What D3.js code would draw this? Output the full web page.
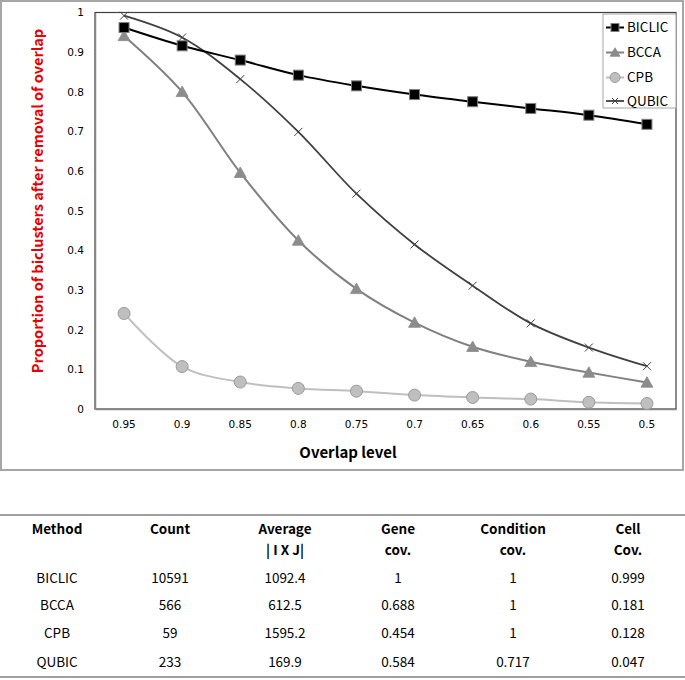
<!DOCTYPE html>
<html><head><meta charset="utf-8">
<script src="https://cdn.jsdelivr.net/npm/d3@7"></script>
<style>body{margin:0;background:#fff}svg{display:block}</style>
</head><body>
<svg id="c" width="685" height="680"></svg>
<script>
const overlapLevels = ["0.95","0.9","0.85","0.8","0.75","0.7","0.65","0.6","0.55","0.5"];
const yTicks = [0,0.1,0.2,0.3,0.4,0.5,0.6,0.7,0.8,0.9,1];
const biclic = [0.962,0.916,0.880,0.842,0.815,0.793,0.775,0.758,0.741,0.718];
const bcca   = [0.941,0.800,0.596,0.425,0.303,0.218,0.157,0.119,0.092,0.067];
const cpb    = [0.241,0.107,0.068,0.052,0.045,0.035,0.029,0.025,0.017,0.014];
const qubic  = [0.992,0.937,0.832,0.699,0.543,0.415,0.311,0.216,0.155,0.108];
const seriesNames = ["BICLIC","BCCA","CPB","QUBIC"];
const tableHeader1 = ["Method","Count","Average","Gene","Condition","Cell"];
const tableHeader2 = ["","","| I X J|","cov.","cov.","Cov."];
const tableRows = [
  ["BICLIC","10591","1092.4","1","1","0.999"],
  ["BCCA","566","612.5","0.688","1","0.181"],
  ["CPB","59","1595.2","0.454","1","0.128"],
  ["QUBIC","233","169.9","0.584","0.717","0.047"]
];

const svg = d3.select("#c");
const F = "'Noto Sans CJK KR','Noto Sans',sans-serif";
const FT = "'DejaVu Sans',Verdana,sans-serif";

// outer chart frame
svg.append("rect").attr("x",1).attr("y",1).attr("width",682).attr("height",469)
  .attr("fill","#fff").attr("stroke","#a6a6a6").attr("stroke-width",2);

const L=95,R=676,T=12.5,B=409;
const x = d3.scaleBand().domain(overlapLevels).range([L,R]).padding(0);
const y = d3.scaleLinear().domain([0,1]).range([B,T]);
const cx = d => x(d)+x.bandwidth()/2;

// plot area border
svg.append("rect").attr("x",L).attr("y",T).attr("width",R-L).attr("height",B-T)
  .attr("fill","none").attr("stroke","#404040").attr("stroke-width",1.2);

// axes
const ya = svg.append("g").attr("transform",`translate(${L},0)`)
  .call(d3.axisLeft(y).tickValues(yTicks).tickSize(0).tickPadding(11).tickFormat(d3.format("")));
ya.select(".domain").attr("stroke","#868686").attr("stroke-width",1.5);
ya.selectAll("text").attr("font-family",FT).attr("font-size","10.5px").attr("fill","#000");

const xa = svg.append("g").attr("transform",`translate(0,${B})`)
  .call(d3.axisBottom(x).tickSize(0).tickPadding(12));
xa.select(".domain").attr("stroke","#868686").attr("stroke-width",1.5);
xa.selectAll("text").attr("font-family",FT).attr("font-size","10.5px").attr("fill","#000");

// titles
svg.append("text").attr("x",348).attr("y",458).attr("text-anchor","middle")
  .attr("font-family",F).attr("font-weight","bold").attr("font-size","15px").attr("fill","#000")
  .text("Overlap level");
svg.append("text").attr("transform","translate(43,201) rotate(-90)").attr("text-anchor","middle")
  .attr("font-family",F).attr("font-weight","bold").attr("font-size","14.5px").attr("fill","#e60000")
  .text("Proportion of biclusters after removal of overlap");

const styles = [
  {name:"BICLIC",data:biclic,line:"#000",w:2,marker:"square"},
  {name:"BCCA",data:bcca,line:"#808080",w:2,marker:"triangle"},
  {name:"CPB",data:cpb,line:"#bfbfbf",w:2,marker:"circle"},
  {name:"QUBIC",data:qubic,line:"#404040",w:1.8,marker:"x"}
];
const lineGen = d3.line().x((d,i)=>cx(overlapLevels[i])).y(d=>y(d)).curve(d3.curveCatmullRom.alpha(0.5));

function drawMarker(g,type,px,py,s){
  if(type==="square"){
    g.append("rect").attr("x",px-s/2).attr("y",py-s/2).attr("width",s).attr("height",s)
      .attr("fill","#000").attr("stroke","#808080").attr("stroke-width",1);
  } else if(type==="triangle"){
    const h=s*0.95;
    g.append("path").attr("d",`M${px},${py-h/2-1}L${px+s/2+1},${py+h/2}L${px-s/2-1},${py+h/2}Z`)
      .attr("fill","#8c8c8c").attr("stroke","#8c8c8c").attr("stroke-width",0.8);
  } else if(type==="circle"){
    g.append("circle").attr("cx",px).attr("cy",py).attr("r",s/2+1)
      .attr("fill","#bfbfbf").attr("stroke","#9a9a9a").attr("stroke-width",1);
  } else {
    const a=s/2-1;
    g.append("path").attr("d",`M${px-a},${py-a}L${px+a},${py+a}M${px-a},${py+a}L${px+a},${py-a}`)
      .attr("stroke","#404040").attr("stroke-width",1).attr("fill","none");
  }
}

// draw order: CPB, BCCA, QUBIC, BICLIC (BICLIC on top)
[2,1,3,0].forEach(k=>{
  const s=styles[k];
  const g=svg.append("g");
  g.append("path").datum(s.data).attr("d",lineGen).attr("fill","none")
    .attr("stroke",s.line).attr("stroke-width",s.w);
  s.data.forEach((v,i)=>drawMarker(g,s.marker,cx(overlapLevels[i]),y(v),10));
});

// legend
svg.append("rect").attr("x",603).attr("y",14).attr("width",73).attr("height",94)
  .attr("fill","#fff").attr("stroke","#a6a6a6").attr("stroke-width",1);
const ly=[27.5,52.5,77.5,101];
styles.forEach((s,i)=>{
  const g=svg.append("g");
  g.append("line").attr("x1",606).attr("x2",624).attr("y1",ly[i]).attr("y2",ly[i])
    .attr("stroke",s.line).attr("stroke-width",s.w);
  drawMarker(g,s.marker,615,ly[i],8);
  g.append("text").attr("x",627).attr("y",ly[i]).attr("dy","0.36em")
    .attr("font-family",F).attr("font-size","13.5px").attr("fill","#000").text(s.name);
});

// table
const colX=[57,170,285,398,513,628];
svg.append("line").attr("x1",0).attr("x2",685).attr("y1",515).attr("y2",515).attr("stroke","#a0a0a0").attr("stroke-width",2);
svg.append("line").attr("x1",0).attr("x2",685).attr("y1",677).attr("y2",677).attr("stroke","#a0a0a0").attr("stroke-width",2);
tableHeader1.forEach((t,i)=>svg.append("text").attr("x",colX[i]).attr("y",529).attr("dy","0.36em")
  .attr("text-anchor","middle").attr("font-family",F).attr("font-weight","bold").attr("font-size","13.5px").text(t));
tableHeader2.forEach((t,i)=>svg.append("text").attr("x",colX[i]).attr("y",550).attr("dy","0.36em")
  .attr("text-anchor","middle").attr("font-family",F).attr("font-weight","bold").attr("font-size","13.5px").text(t));
const rowY=[578,605,633,662];
tableRows.forEach((r,j)=>r.forEach((t,i)=>svg.append("text").attr("x",colX[i]).attr("y",rowY[j]).attr("dy","0.36em")
  .attr("text-anchor","middle").attr("font-family",F).attr("font-size","13.5px").attr("fill","#000").text(t)));
</script>
</body></html>
